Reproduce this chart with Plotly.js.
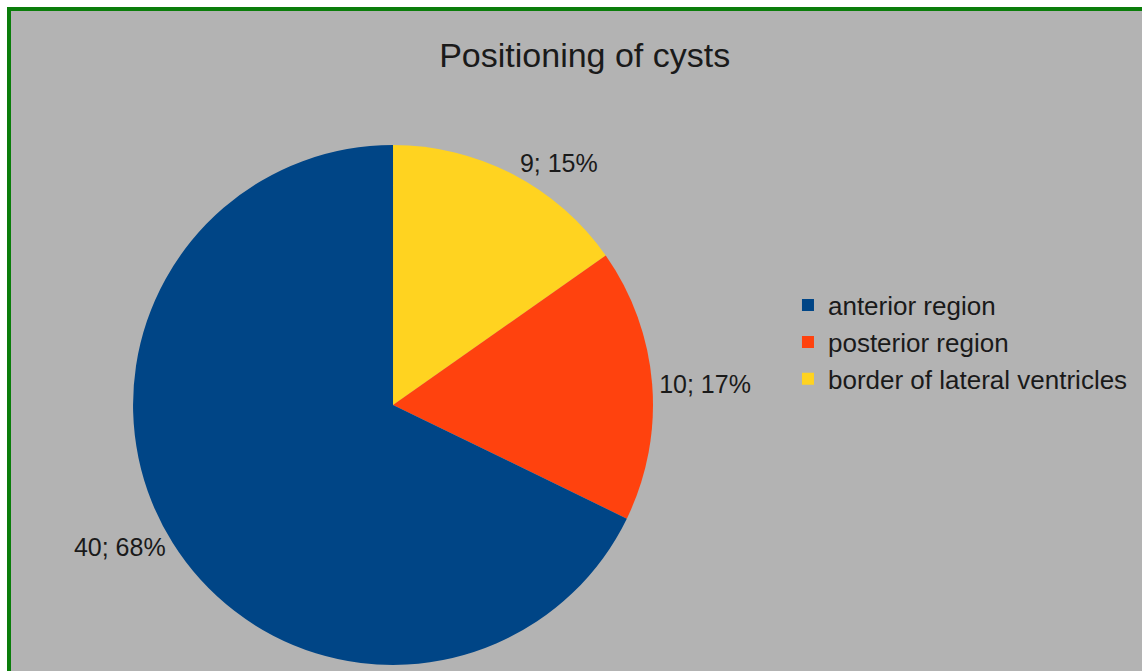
<!DOCTYPE html>
<html>
<head>
<meta charset="utf-8">
<script src="https://cdn.plot.ly/plotly-3.0.1.min.js"></script>
<style>
html,body{margin:0;padding:0;background:#ffffff;}
#chart{width:1142px;height:671px;}
</style>
</head>
<body>
<div id="chart"></div>
<script>
// Listed in drawing order (clockwise from 12 o'clock); legend shows them reversed
const categories = ["border of lateral ventricles", "posterior region", "anterior region"];
const counts = [9, 10, 40];
const colors = ["#ffd320", "#ff420e", "#004586"];
const chartTitle = "Positioning of cysts";

const trace = {
  type: "pie",
  labels: categories,
  values: counts,
  sort: false,
  direction: "clockwise",
  rotation: 0,
  marker: {colors: colors, line: {width: 0}},
  texttemplate: "%{value}; %{percent:.0%}",
  textposition: "outside",
  textfont: {family: "Liberation Sans, Arial, sans-serif", size: 25, color: "#1a1a1a"},
  domain: {x: [0.1165, 0.5718], y: [0.009, 0.784]},
  hoverinfo: "label+value+percent"
};

const layout = {
  width: 1142,
  height: 671,
  margin: {l: 0, r: 0, t: 0, b: 0},
  paper_bgcolor: "#b3b3b3",
  title: {
    text: chartTitle,
    x: 0.512, xanchor: "center",
    y: 0.918, yanchor: "middle",
    font: {family: "Liberation Sans, Arial, sans-serif", size: 34, color: "#1a1a1a"}
  },
  showlegend: true,
  legend: {
    x: 0.69, xanchor: "left",
    y: 0.49, yanchor: "middle",
    traceorder: "reversed",
    bgcolor: "rgba(0,0,0,0)",
    font: {family: "Liberation Sans, Arial, sans-serif", size: 26, color: "#1a1a1a"}
  },
  shapes: [
    {type: "rect", xref: "paper", yref: "paper", x0: 0, x1: 1, y0: 1 - 7/671, y1: 1, fillcolor: "#ffffff", line: {width: 0}},
    {type: "rect", xref: "paper", yref: "paper", x0: 0, x1: 7/1142, y0: 0, y1: 1, fillcolor: "#ffffff", line: {width: 0}},
    {type: "rect", xref: "paper", yref: "paper", x0: 7/1142, x1: 1, y0: 1 - 11/671, y1: 1 - 7/671, fillcolor: "#0a7d0a", line: {width: 0}},
    {type: "rect", xref: "paper", yref: "paper", x0: 7/1142, x1: 11/1142, y0: 0, y1: 1 - 7/671, fillcolor: "#0a7d0a", line: {width: 0}}
  ]
};

Plotly.newPlot("chart", [trace], layout, {displayModeBar: false, staticPlot: true});
</script>
</body>
</html>
